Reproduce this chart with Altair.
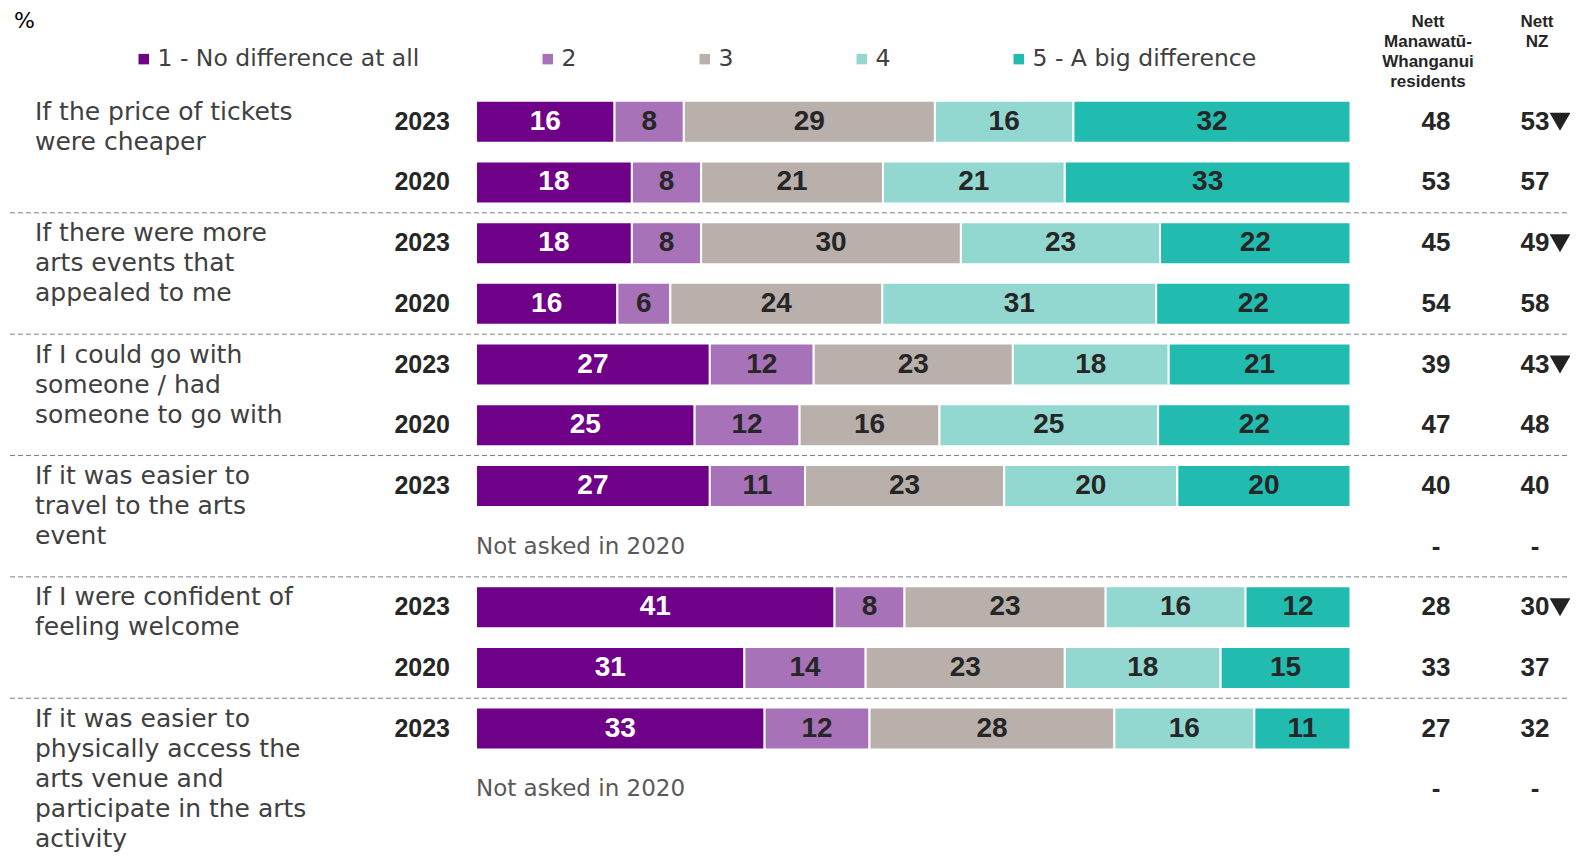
import altair as alt
import pandas as pd

# ---------------- data ----------------
questions = [
    "If the price of tickets\nwere cheaper",
    "If there were more\narts events that\nappealed to me",
    "If I could go with\nsomeone / had\nsomeone to go with",
    "If it was easier to\ntravel to the arts\nevent",
    "If I were confident of\nfeeling welcome",
    "If it was easier to\nphysically access the\narts venue and\nparticipate in the arts\nactivity",
]
years = ["2023", "2020"]
categories = ["1 - No difference at all", "2", "3", "4", "5 - A big difference"]
colors = ["#6f0088", "#a872b9", "#b9b0ac", "#92d8d0", "#21bbb0"]

values_2023 = [
    [16, 8, 29, 16, 32],
    [18, 8, 30, 23, 22],
    [27, 12, 23, 18, 21],
    [27, 11, 23, 20, 20],
    [41, 8, 23, 16, 12],
    [33, 12, 28, 16, 11],
]
values_2020 = [
    [18, 8, 21, 21, 33],
    [16, 6, 24, 31, 22],
    [25, 12, 16, 25, 22],
    None,
    [31, 14, 23, 18, 15],
    None,
]
nett_mw_2023 = [48, 45, 39, 40, 28, 27]
nett_mw_2020 = [53, 54, 47, None, 33, None]
nett_nz_2023 = [53, 49, 43, 40, 30, 32]
nett_nz_2020 = [57, 58, 48, None, 37, None]
nz_lower_2023 = [True, True, True, False, True, False]

not_asked_text = "Not asked in 2020"

# ---------------- tables ----------------
bar_rows, row_rows, q_rows, sep_rows = [], [], [], []
for qi, q in enumerate(questions):
    q_rows.append({"slot": qi * 2, "label": q})
    if qi < len(questions) - 1:
        sep_rows.append({"slot": qi * 2 + 1.5})
    for yi, (yr, vals, mw, nz) in enumerate([
        ("2023", values_2023[qi], nett_mw_2023[qi], nett_nz_2023[qi]),
        ("2020", values_2020[qi], nett_mw_2020[qi], nett_nz_2020[qi]),
    ]):
        slot = qi * 2 + yi
        row_rows.append({
            "slot": slot,
            "year": yr if vals is not None else "",
            "mw": str(mw) if mw is not None else "-",
            "nz": str(nz) if nz is not None else "-",
            "lower": bool(yi == 0 and nz_lower_2023[qi]),
            "notasked": not_asked_text if vals is None else "",
        })
        if vals is None:
            continue
        total = float(sum(vals))
        cum = 0.0
        for ci, v in enumerate(vals):
            s = cum / total
            cum += v
            e = cum / total
            bar_rows.append({
                "slot": slot, "cat": categories[ci], "ci": ci, "val": v,
                "start": s, "end": e, "mid": (s + e) / 2,
            })

bars_df = pd.DataFrame(bar_rows)
rows_df = pd.DataFrame(row_rows)
q_df = pd.DataFrame(q_rows)
sep_df = pd.DataFrame(sep_rows)

W, H = 1562, 845
xscale = alt.Scale(domain=[-0.5352, 1.2510], nice=False, zero=False, padding=0)
yscale = alt.Scale(domain=[-1.8754, 12.050], nice=False, zero=False, reverse=True, padding=0)
Y = alt.Y("slot:Q", scale=yscale, axis=None)
DARK = "#262626"

seps = alt.Chart(sep_df).mark_rule(
    color="#7f7f7f", strokeDash=[5, 3], strokeWidth=1
).encode(y=Y, x=alt.value(2), x2=alt.value(W))

bars = alt.Chart(bars_df).mark_bar(
    size=42, orient="horizontal", stroke="white", strokeWidth=2
).encode(
    x=alt.X("start:Q", scale=xscale, axis=None),
    x2="end:Q",
    y=Y,
    color=alt.Color(
        "cat:N",
        scale=alt.Scale(domain=categories, range=colors),
        legend=alt.Legend(
            title=None, orient="none", legendX=124, legendY=39,
            direction="horizontal", columns=5, symbolType="square",
            symbolSize=110, symbolStrokeWidth=0, labelFontSize=23.5,
            labelFont="DejaVu Sans", labelColor="#404040", labelOffset=2,
            columnPadding=116, labelLimit=0, padding=0,
        ),
    ),
)

bar_text_style = dict(font="Liberation Sans", fontWeight="bold", fontSize=28,
                      baseline="middle", align="center")
bar_text_white = alt.Chart(bars_df).transform_filter("datum.ci == 0").mark_text(
    color="white", **bar_text_style
).encode(x=alt.X("mid:Q", scale=xscale, axis=None), y=Y, text="val:Q")
bar_text_dark = alt.Chart(bars_df).transform_filter("datum.ci > 0").mark_text(
    color=DARK, **bar_text_style
).encode(x=alt.X("mid:Q", scale=xscale, axis=None), y=Y, text="val:Q")

year_text = alt.Chart(rows_df).mark_text(
    font="Liberation Sans", fontWeight="bold", fontSize=25, color=DARK,
    align="right", baseline="middle",
).encode(x=alt.value(442), y=Y, text="year:N")

not_asked = alt.Chart(rows_df).mark_text(
    font="DejaVu Sans", fontSize=23, color="#595959", align="left", baseline="middle",
).encode(x=alt.value(468), y=Y, text="notasked:N")

mw_text = alt.Chart(rows_df).mark_text(
    font="Liberation Sans", fontWeight="bold", fontSize=26, color=DARK,
    align="center", baseline="middle",
).encode(x=alt.value(1428), y=Y, text="mw:N")

nz_text = alt.Chart(rows_df).mark_text(
    font="Liberation Sans", fontWeight="bold", fontSize=26, color=DARK,
    align="center", baseline="middle",
).encode(x=alt.value(1527), y=Y, text="nz:N")

tri = alt.Chart(rows_df).transform_filter("datum.lower").mark_point(
    shape="triangle-down", filled=True, size=430, color="#222222", opacity=1
).encode(x=alt.value(1552), y=Y)

q_text = alt.Chart(q_df).mark_text(
    font="DejaVu Sans", fontSize=25, color="#404040", align="left", baseline="middle",
    lineBreak="\n", lineHeight=30, dy=-10,
).encode(x=alt.value(27), y=Y, text="label:N")

hdr_df = pd.DataFrame([
    {"label": "Nett\nManawatū-\nWhanganui\nresidents", "col": "mw"},
    {"label": "Nett\nNZ", "col": "nz"},
])
hdr_mw = alt.Chart(hdr_df).transform_filter("datum.col == 'mw'").mark_text(
    font="Liberation Sans", fontWeight="bold", fontSize=17, color=DARK,
    align="center", baseline="top", lineBreak="\n", lineHeight=20,
).encode(x=alt.value(1420), y=alt.value(6), text="label:N")
hdr_nz = alt.Chart(hdr_df).transform_filter("datum.col == 'nz'").mark_text(
    font="Liberation Sans", fontWeight="bold", fontSize=17, color=DARK,
    align="center", baseline="top", lineBreak="\n", lineHeight=20,
).encode(x=alt.value(1529), y=alt.value(6), text="label:N")

pct = alt.Chart(pd.DataFrame([{"t": "%"}])).mark_text(
    font="DejaVu Sans", fontSize=22, color="#000000", align="left", baseline="middle",
).encode(x=alt.value(6), y=alt.value(13), text="t:N")

chart = alt.layer(
    seps, bars, bar_text_white, bar_text_dark, year_text, not_asked,
    mw_text, nz_text, tri, q_text, hdr_mw, hdr_nz, pct,
).properties(
    width=W, height=H, autosize=alt.AutoSizeParams(type="none"), padding=0,
).configure_view(strokeWidth=0)

chart.save("out.html", embed_options={"renderer": "svg", "actions": False})
